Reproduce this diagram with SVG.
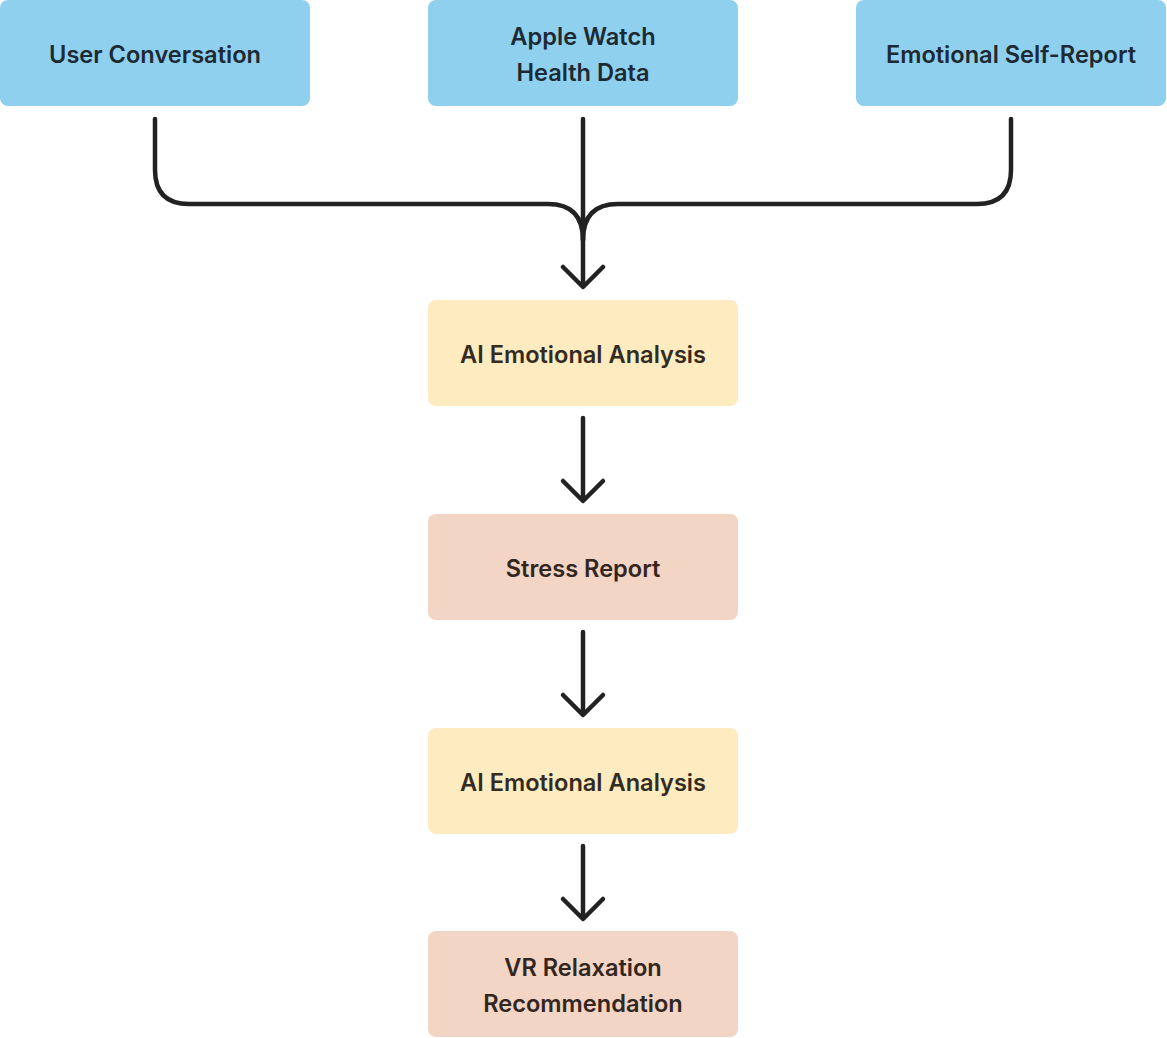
<svg xmlns="http://www.w3.org/2000/svg" width="1167" height="1038" viewBox="0 0 1167 1038">
<style>
.box{stroke:none}
.blue{fill:#8fd0ef}
.yellow{fill:#feebc0}
.pink{fill:#f2d5c4}
.t{font-family:Inter,"Liberation Sans",sans-serif;font-size:23.6px;font-weight:600;text-anchor:middle;dominant-baseline:central}
.tb{fill:#1d2a33}
.ty{fill:#332b22}
.tp{fill:#33261f}
.c{fill:none;stroke:#222;stroke-width:4.5;stroke-linecap:round;stroke-linejoin:round}
</style>
<rect width="1167" height="1038" fill="#fff"/>
<g id="connectors">
<path class="c" d="M155,119 V170 Q155,204 189,204 H548 Q583,204 583,240"/>
<path class="c" d="M1011,119 V170 Q1011,204 977,204 H618 Q583,204 583,240"/>
<path class="c" d="M583,119 V286 M563,267 L583,287 L603,267"/>
<path class="c" d="M583,418 V500 M563,481 L583,501 L603,481"/>
<path class="c" d="M583,632 V714 M563,695 L583,715 L603,695"/>
<path class="c" d="M583,846 V918 M563,899 L583,919 L603,899"/>
</g>
<g id="n1"><rect class="box blue" x="0" y="0" width="310" height="106" rx="8"/><text class="t tb" x="155" y="54">User Conversation</text></g>
<g id="n2"><rect class="box blue" x="428" y="0" width="310" height="106" rx="8"/><text class="t tb" x="583" y="36">Apple Watch</text><text class="t tb" x="583" y="72">Health Data</text></g>
<g id="n3"><rect class="box blue" x="856" y="0" width="310" height="106" rx="8"/><text class="t tb" x="1011" y="54">Emotional Self-Report</text></g>
<g id="n4"><rect class="box yellow" x="428" y="300" width="310" height="106" rx="8"/><text class="t ty" x="583" y="354">AI Emotional Analysis</text></g>
<g id="n5"><rect class="box pink" x="428" y="514" width="310" height="106" rx="8"/><text class="t tp" x="583" y="568">Stress Report</text></g>
<g id="n6"><rect class="box yellow" x="428" y="728" width="310" height="106" rx="8"/><text class="t ty" x="583" y="782">AI Emotional Analysis</text></g>
<g id="n7"><rect class="box pink" x="428" y="931" width="310" height="106" rx="8"/><text class="t tp" x="583" y="967">VR Relaxation</text><text class="t tp" x="583" y="1003">Recommendation</text></g>
</svg>
